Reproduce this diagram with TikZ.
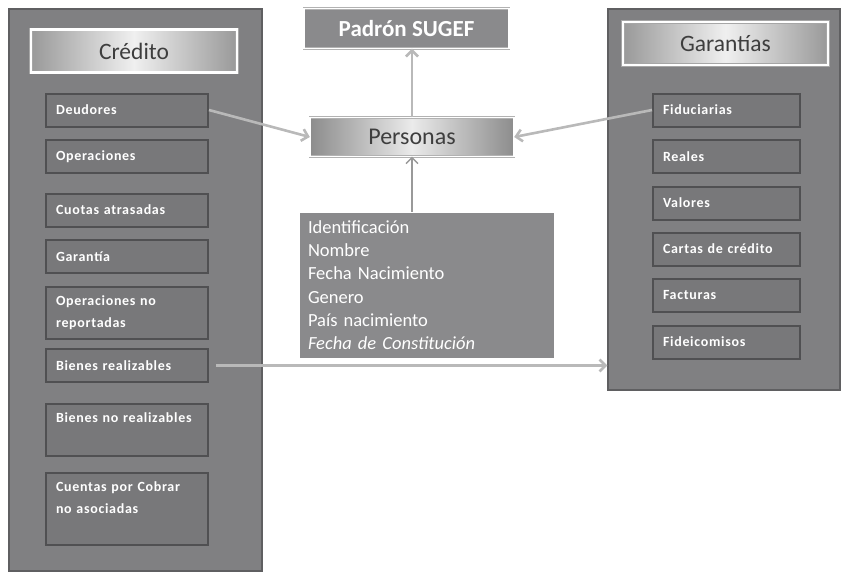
\documentclass[tikz,border=0pt]{standalone}
\usepackage{fontspec}
\setmainfont{Carlito}
\newfontfamily\itemfont[LetterSpace=5,WordSpace=0.5]{Carlito}
\usetikzlibrary{arrows.meta}
\usetikzlibrary{positioning}
\definecolor{panelgray}{RGB}{128,128,130}
\definecolor{panelline}{RGB}{95,95,97}
\definecolor{itemgray}{RGB}{120,120,122}
\definecolor{itemline}{RGB}{80,80,82}
\definecolor{boxgray}{RGB}{138,138,140}
\definecolor{arrowgray}{RGB}{185,185,185}
\definecolor{headtext}{RGB}{62,62,62}
\newcommand{\topbox}[2]{\parbox[c][#1][t]{\hsize}{\vspace*{9pt}#2}}

\begin{document}
\begin{tikzpicture}[x=1pt,y=-1pt,
  panel/.style={draw=panelline,line width=1.2pt,fill=panelgray,inner sep=0pt},
  head/.style={draw=black!35,double=white,double distance=2.6pt,line width=0.4pt,
    left color=black!40,right color=black!40,middle color=black!6,
    text=headtext,font=\fontsize{23.5}{26}\selectfont,minimum height=43pt},
  item/.style={draw=itemline,line width=2pt,fill=itemgray,text=white,
    font=\itemfont\bfseries\fontsize{14}{22}\selectfont,align=left,
    inner xsep=10pt,inner ysep=0pt,minimum height=33pt},
  litem/.style={item,text width=142pt},
  ritem/.style={item,text width=127pt},
  link/.style={draw=arrowgray,line width=2.6pt,-{Straight Barb[length=6pt,width=12pt]}}]
\useasboundingbox (0,0) rectangle (842,571);
\node[panel,minimum width=253pt,minimum height=562pt] (credpanel) at (135.5,290) {};
\node[panel,minimum width=232pt,minimum height=381pt] (garpanel) at (724,199.5) {};
\node[head,minimum width=206pt] (credito) at (134,51) {Crédito};
\node[head,minimum width=205pt] (garantias) at (725.5,43.5) {Garantías};
\node[litem] (deudores) at (127,110) {Deudores};
\node[litem] (operaciones) at (127,156.5) {Operaciones};
\node[litem] (cuotas) at (127,210) {Cuotas atrasadas};
\node[litem] (garantia) at (127,256.5) {Garantía};
\node[litem] (opnorep) at (127,313) {\topbox{52pt}{Operaciones no\\reportadas}};
\node[litem] (bienr) at (127,365.5) {Bienes realizables};
\node[litem] (biennor) at (127,430) {\topbox{52pt}{Bienes no realizables}};
\node[litem] (cuentas) at (127,509) {\topbox{72pt}{Cuentas por Cobrar\\no asociadas}};
\node[ritem] (fiduciarias) at (726.5,110) {Fiduciarias};
\node[ritem] (reales) at (726.5,156.5) {Reales};
\node[ritem] (valores) at (726.5,203) {Valores};
\node[ritem] (cartas) at (726.5,249) {Cartas de crédito};
\node[ritem] (facturas) at (726.5,295.5) {Facturas};
\node[ritem] (fideicomisos) at (726.5,342) {Fideicomisos};
\node[draw=black!30,double=white,double distance=1.4pt,line width=0.4pt,fill=boxgray,
  text=white,font=\bfseries\fontsize{23}{26}\selectfont,minimum width=205pt,minimum height=40pt] (padron) at (406.5,28.5) {Padrón SUGEF};
\node[draw=black!30,double=white,double distance=1.6pt,line width=0.4pt,
  left color=black!45,right color=black!45,middle color=black!8,text=headtext,
  font=\fontsize{24}{26}\selectfont,minimum width=204pt,minimum height=39pt] (personas) at (412,137) {Personas};
\node[draw=white,line width=1pt,fill=boxgray,text=white,align=left,
  font=\fontsize{18.5}{23.3}\selectfont,text width=237pt,inner xsep=9pt,
  minimum height=146pt] (datos) at (426.5,285) {Identificación\\Nombre\\Fecha Nacimiento\\Genero\\País nacimiento\\\textit{Fecha de Constitución}};
\draw[link] (personas.north) -- (personas.north |- padron.south);
\draw[link,draw=black!40,line width=1.3pt] (datos.north -| personas.south) -- (personas.south);
\draw[link] (deudores.east) -- (personas.west);
\draw[link] (fiduciarias.west) -- (personas.east);
\draw[link,shorten <=7pt] (bienr.east) -- (bienr.east -| garpanel.west);
\end{tikzpicture}
\end{document}
